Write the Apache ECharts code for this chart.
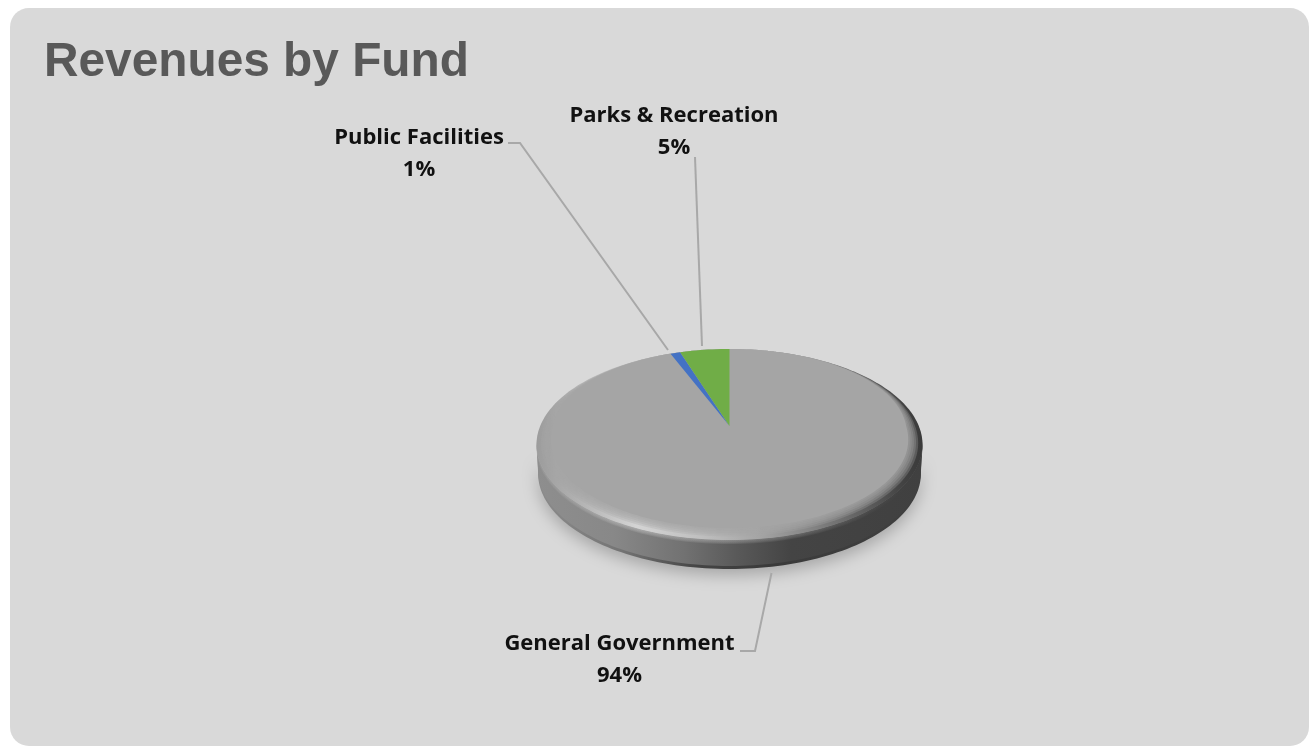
<!DOCTYPE html>
<html>
<head>
<meta charset="utf-8">
<title>Revenues by Fund</title>
<script src="https://cdn.jsdelivr.net/npm/echarts@6/dist/echarts.min.js"></script>
<style>
  html, body { margin: 0; padding: 0; background: #ffffff; }
  #chart { width: 1309px; height: 746px; }
</style>
</head>
<body>
<div id="chart"></div>
<script>
// Fund shares, listed clockwise from twelve o'clock.
const categories = ['General Government', 'Public Facilities', 'Parks & Recreation'];
const shares = [94, 1, 5];
const sliceColors = ['#a5a5a5', '#4472c4', '#70ad47'];

// Where each callout sits: text anchor and its leader line.
const callouts = [
  { x: 619.5, y: 660, line: [[771.5, 573], [755, 651], [740, 651]] },
  { x: 419, y: 154, line: [[508, 143], [520, 143], [668, 350]] },
  { x: 674, y: 131.5, line: [[695, 157], [702, 346]] }
];

// Tilted-disc projection: a unit circle seen in perspective.
const disc = { cx: 729.5, apexY: 426, a: 189.3, b: 91.9, k: 0.194, depth: 29 };
const total = shares.reduce((s, v) => s + v, 0);

function project(theta, r) {
  const x = Math.sin(theta) * r, y = Math.cos(theta) * r;
  const w = 1 + disc.k * y;
  return [disc.cx + disc.a * x / w, disc.apexY - disc.b * y / w];
}

// The flat top stops short of the bevel at the front and sides, and reaches the rim at the back.
function surfaceScale(theta) {
  const y = Math.cos(theta);
  return y >= 0 ? 1 - 0.067 * Math.pow(1 - y, 1.6) : 0.933 + 0.038 * y;
}
function surfacePoint(theta, grow) {
  const p = project(theta, 1);
  const f = surfaceScale(theta);
  const s = f + (1 - f) * grow;
  return [disc.cx + (p[0] - disc.cx) * s, disc.apexY + (p[1] - disc.apexY) * s];
}

const STEPS = 240;
const rimPoints = [];
for (let i = 0; i < STEPS; i++) rimPoints.push(project(i / STEPS * Math.PI * 2, 1));

function lowerChain() {
  let iR = 0, iL = 0;
  rimPoints.forEach((p, i) => {
    if (p[0] > rimPoints[iR][0]) iR = i;
    if (p[0] < rimPoints[iL][0]) iL = i;
  });
  return rimPoints.slice(iR, iL + 1);
}

function wallPolygon(extraDepth) {
  const top = lowerChain();
  const bottom = top.slice().reverse().map(p => [
    disc.cx + (p[0] - disc.cx) * 0.992,
    p[1] + extraDepth
  ]);
  return top.concat(bottom);
}

function hGradient(stops) {
  return new echarts.graphic.LinearGradient(0, 0, 1, 0,
    stops.map(s => ({ offset: s[0], color: s[1] })));
}

function discBody() {
  const els = [];
  // Underside edge with the soft cast shadow
  els.push({
    type: 'polygon',
    shape: { points: wallPolygon(disc.depth) },
    style: {
      fill: hGradient([[0, '#8c8c8c'], [0.22, '#747474'], [0.42, '#444444'], [0.6, '#3a3a3a'], [1, '#404040']]),
      shadowBlur: 16, shadowColor: 'rgba(0,0,0,0.24)', shadowOffsetY: 6
    }
  });
  // Side wall
  els.push({
    type: 'polygon',
    shape: { points: wallPolygon(disc.depth - 3) },
    style: {
      fill: hGradient([[0, '#8e8e8e'], [0.2, '#888888'], [0.38, '#727272'], [0.52, '#595959'],
        [0.66, '#444444'], [1, '#404040']])
    }
  });
  // Feathered lower lip of the bevel
  [4, 3, 2, 1].forEach(d => {
    els.push({
      type: 'polygon',
      shape: { points: rimPoints.map(p => [p[0], p[1] + d]) },
      style: {
        opacity: 0.22,
        fill: hGradient([[0, '#a0a0a0'], [0.26, '#bdbdbd'], [0.5, '#a0a0a0'], [0.72, '#6e6e6e'],
          [0.9, '#484848'], [1, '#3c3c3c']])
      }
    });
  });
  // Bevel ring
  els.push({
    type: 'polygon',
    shape: { points: rimPoints },
    style: {
      fill: hGradient([[0, '#9c9c9c'], [0.1, '#b0b0b0'], [0.26, '#d4d4d4'], [0.42, '#c0c0c0'],
        [0.58, '#a4a4a4'], [0.72, '#828282'], [0.86, '#5c5c5c'], [0.95, '#424242'], [1, '#3a3a3a']])
    }
  });
  // Soft blend from the bevel into the flat top
  [0.7, 0.55, 0.4, 0.25, 0.12].forEach(g => {
    const pts = [];
    for (let i = 0; i < STEPS; i++) pts.push(surfacePoint(i / STEPS * Math.PI * 2, g));
    els.push({
      type: 'polygon',
      shape: { points: pts },
      style: { fill: sliceColors[0], opacity: 0.3 }
    });
  });
  return els;
}

function renderFund(params, api) {
  const i = params.dataIndex;
  const value = api.value(0);
  const before = shares.slice(0, i).reduce((s, v) => s + v, 0);
  const start = before / total * Math.PI * 2;
  const sweep = value / total * Math.PI * 2;
  const n = Math.max(2, Math.ceil(sweep / (Math.PI * 2) * STEPS));
  const pts = [[disc.cx, disc.apexY]];
  for (let j = 0; j <= n; j++) pts.push(surfacePoint(start + sweep * j / n, 0));

  const children = i === 0 ? discBody() : [];
  children.push({
    type: 'polygon',
    shape: { points: pts },
    style: { fill: sliceColors[i] }
  });

  const callout = callouts[i];
  children.push({
    type: 'polyline',
    shape: { points: callout.line },
    style: { fill: 'none', stroke: '#a8a8a8', lineWidth: 2 }
  });
  children.push({
    type: 'text',
    style: {
      x: callout.x,
      y: callout.y,
      text: categories[i] + '\n' + Math.round(value / total * 100) + '%',
      align: 'center',
      verticalAlign: 'middle',
      fill: '#111111',
      font: 'bold 22px "Open Sans"',
      lineHeight: 32
    }
  });
  return { type: 'group', children };
}

const chart = echarts.init(document.getElementById('chart'), null, { renderer: 'canvas' });
chart.setOption({
  animation: false,
  backgroundColor: '#ffffff',
  title: {
    text: 'Revenues by Fund',
    left: 39,
    top: 34,
    textStyle: { fontFamily: 'Liberation Sans', fontWeight: 'bold', fontSize: 47.8, color: '#595959' }
  },
  graphic: [{
    type: 'rect',
    z: -10,
    silent: true,
    shape: { x: 10, y: 8, width: 1299, height: 738, r: 19 },
    style: { fill: '#d9d9d9' }
  }],
  series: [{
    type: 'custom',
    coordinateSystem: 'none',
    silent: true,
    z: 2,
    data: shares,
    renderItem: renderFund
  }]
});
</script>
</body>
</html>
